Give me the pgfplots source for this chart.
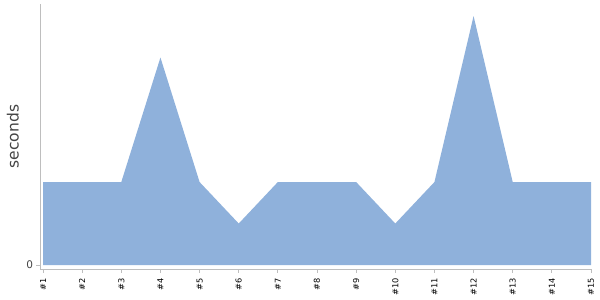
\documentclass[border=0pt]{standalone}
\usepackage{pgfplots}
\pgfplotsset{compat=1.18}
\usepackage{fontspec}
\setmainfont{DejaVu Sans}
\definecolor{areafill}{RGB}{143,177,219}
\definecolor{axgray}{RGB}{190,190,190}
\definecolor{labgray}{RGB}{68,68,68}
\begin{document}
\begin{tikzpicture}
\path[use as bounding box] (-40pt,-31pt) rectangle (560pt,269pt);
\begin{axis}[
  at={(0,0)}, anchor=south west,
  scale only axis, width=551pt, height=265pt,
  xmin=0.923, xmax=15, ymin=-0.096, ymax=6.29,
  axis x line*=bottom, axis y line*=left,
  axis line style={axgray, line width=0.8pt},
  xtick={1,...,15},
  xticklabels={\#1,\#2,\#3,\#4,\#5,\#6,\#7,\#8,\#9,\#10,\#11,\#12,\#13,\#14,\#15},
  ytick={0},
  tick style={axgray, line width=0.8pt},
  major tick length=3.5pt,
  tick align=outside,
  /pgf/number format/assume math mode=true,
  xticklabel style={rotate=90, anchor=east, inner xsep=5.5pt, font=\fontsize{8.2}{9}\selectfont, text=black},
  yticklabel style={font=\fontsize{10.5}{11}\selectfont, text=labgray},
  ylabel={seconds},
  ylabel style={at={(axis description cs:-0.0381,0.5)}, anchor=south, inner sep=0pt, font=\fontsize{15.5}{16}\selectfont, text=labgray},
]
\addplot[draw=none, fill=areafill] coordinates {
(1,2) (2,2) (3,2) (4,5) (5,2) (6,1) (7,2) (8,2) (9,2) (10,1) (11,2) (12,6) (13,2) (14,2) (15,2)
} \closedcycle;
\end{axis}
\end{tikzpicture}
\end{document}
